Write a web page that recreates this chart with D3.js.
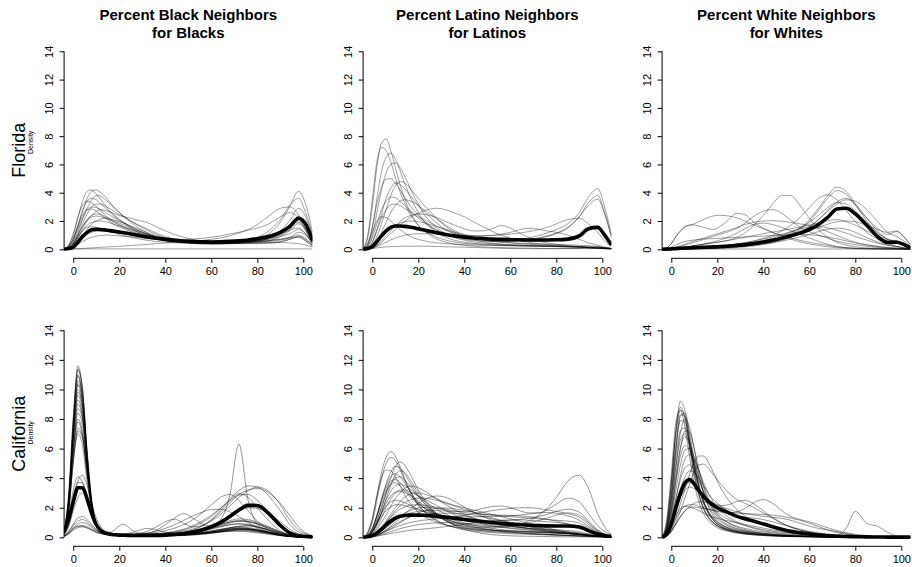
<!DOCTYPE html>
<html>
<head>
<meta charset="utf-8">
<script src="https://cdn.jsdelivr.net/npm/d3@7/dist/d3.min.js"></script>
<style>
  body { margin: 0; background: #fff; }
  svg { font-family: "Liberation Sans", Arial, Helvetica, sans-serif; }
</style>
</head>
<body>
<script>
// Percent of same-group neighbours: density curves per county (grey) and state average (black)
// x grid shared by every curve
const xGrid = [-4,-2,0,2,4,6,8,10,12,14,16,18,20, 22,25,28,32,36,40,44,48,52,56,60,64,68,72,76,80, 85,90,94,98,101,104];

const colTitles = [
  ['Percent Black Neighbors', 'for Blacks'],
  ['Percent Latino Neighbors', 'for Latinos'],
  ['Percent White Neighbors', 'for Whites']
];
const rowLabels = ['Florida', 'California'];
const xTicks = [0, 20, 40, 60, 80, 100];
const yTicks = [0, 2, 4, 6, 8, 10, 12, 14];

// Florida - Black
const flBlackMean = [0,0.05,0.15,0.5,0.9,1.2,1.38,1.42,1.4,1.36,1.32,1.27,1.22, 1.17,1.08,0.99,0.88,0.78,0.7,0.64,0.59,0.55,0.53,0.52,0.53,0.56,0.6,0.66,0.75, 0.9,1.2,1.6,2.2,1.8,0.6];
const flBlackCurves = [
  [0,0.3,1.0,2.2,3.4,4.1,4.2,3.9,3.5,3.1,2.7,2.4,2.1, 1.85,1.5,1.2,0.9,0.72,0.6,0.52,0.47,0.43,0.41,0.4,0.4,0.4,0.4,0.4,0.4, 0.42,0.5,0.7,0.9,0.6,0.2],
  [0,0.2,0.7,1.6,2.7,3.6,4.1,4.2,4.0,3.7,3.3,2.9,2.6, 2.3,1.9,1.55,1.15,0.85,0.65,0.52,0.45,0.4,0.37,0.36,0.37,0.4,0.45,0.55,0.72, 1.1,1.9,3.0,4.1,3.2,1.2],
  [0,0.15,0.5,1.2,2.1,2.9,3.5,3.8,3.75,3.5,3.2,2.9,2.6, 2.35,2.0,1.7,1.35,1.05,0.8,0.65,0.55,0.5,0.46,0.45,0.47,0.5,0.55,0.6,0.7, 0.9,1.2,1.7,2.3,1.8,0.7],
  [0,0.2,0.8,1.7,2.7,3.4,3.6,3.5,3.2,2.9,2.6,2.3,2.1, 1.9,1.6,1.35,1.1,0.85,0.7,0.62,0.57,0.53,0.51,0.5,0.5,0.52,0.57,0.68,0.85, 1.3,2.1,3.1,3.6,2.6,1.0],
  [0,0.1,0.4,1.0,1.8,2.5,3.0,3.2,3.2,3.05,2.85,2.65,2.45, 2.28,2.0,1.75,1.45,1.15,0.9,0.72,0.6,0.53,0.5,0.5,0.5,0.5,0.52,0.56,0.6, 0.75,1.0,1.4,1.9,1.5,0.6],
  [0,0.15,0.6,1.4,2.2,2.8,3.0,2.95,2.8,2.6,2.4,2.2,2.0, 1.85,1.6,1.35,1.1,0.9,0.75,0.65,0.6,0.6,0.63,0.7,0.8,0.95,1.15,1.4,1.75, 2.35,2.9,3.0,2.4,1.4,0.5],
  [0,0.1,0.3,0.8,1.4,2.0,2.4,2.7,2.8,2.75,2.65,2.5,2.4, 2.3,2.2,2.05,1.9,1.6,1.3,1.05,0.85,0.7,0.6,0.52,0.47,0.44,0.42,0.42,0.43, 0.47,0.55,0.7,0.9,0.7,0.3],
  [0,0.1,0.4,1.0,1.6,2.1,2.4,2.5,2.45,2.3,2.15,2.0,1.85, 1.72,1.5,1.3,1.05,0.85,0.7,0.58,0.5,0.45,0.42,0.4,0.41,0.43,0.46,0.52,0.6, 0.8,1.3,2.0,2.9,2.3,0.9],
  [0,0.05,0.2,0.6,1.0,1.4,1.8,2.0,2.15,2.2,2.15,2.05,1.95, 1.85,1.65,1.45,1.2,0.95,0.8,0.65,0.56,0.5,0.47,0.45,0.46,0.48,0.52,0.58,0.65, 0.8,1.1,1.5,2.0,1.6,0.6],
  [0,0.1,0.3,0.8,1.3,1.7,1.9,2.0,2.0,1.95,1.85,1.75,1.65, 1.55,1.4,1.25,1.05,0.9,0.8,0.73,0.7,0.72,0.78,0.85,0.95,1.08,1.2,1.35,1.5, 1.8,2.3,2.6,2.2,1.3,0.5],
  [0,0.05,0.15,0.35,0.55,0.72,0.85,0.93,0.98,1.0,1.0,0.98,0.95, 0.92,0.88,0.83,0.76,0.7,0.66,0.62,0.58,0.55,0.52,0.5,0.49,0.48,0.47,0.48,0.5, 0.55,0.65,0.8,1.2,1.0,0.4],
  [0,0.1,0.4,0.9,1.3,1.55,1.6,1.55,1.45,1.35,1.25,1.15,1.05, 0.97,0.85,0.75,0.64,0.55,0.5,0.46,0.44,0.42,0.41,0.4,0.4,0.41,0.43,0.46,0.5, 0.6,0.9,1.3,1.8,1.4,0.5],
  [0,0.01,0.02,0.04,0.06,0.08,0.1,0.12,0.14,0.16,0.18,0.2,0.22, 0.24,0.27,0.3,0.35,0.4,0.44,0.49,0.53,0.56,0.58,0.6,0.6,0.59,0.57,0.54,0.52, 0.5,0.48,0.45,0.4,0.3,0.15],
  [0,0.02,0.03,0.03,0.03,0.03,0.03,0.03,0.03,0.03,0.03,0.03,0.03, 0.03,0.03,0.03,0.03,0.03,0.03,0.03,0.03,0.03,0.03,0.03,0.03,0.03,0.03,0.03,0.03, 0.03,0.03,0.03,0.03,0.03,0.02],
  [0,0.3,1.1,2.3,3.1,3.4,3.3,3.0,2.7,2.4,2.1,1.9,1.7, 1.55,1.3,1.1,0.88,0.72,0.62,0.55,0.51,0.49,0.48,0.48,0.49,0.5,0.52,0.55,0.6, 0.7,0.9,1.1,1.4,1.1,0.4],
  [0,0.1,0.4,1.0,1.6,2.05,2.3,2.35,2.3,2.2,2.05,1.9,1.75, 1.6,1.4,1.2,0.98,0.8,0.66,0.56,0.49,0.44,0.41,0.4,0.4,0.42,0.45,0.5,0.58, 0.75,1.05,1.35,1.5,1.1,0.4],
  [0,0.2,0.7,1.6,2.4,2.8,2.85,2.7,2.45,2.2,1.95,1.75,1.58, 1.45,1.25,1.08,0.9,0.75,0.63,0.55,0.5,0.46,0.44,0.43,0.43,0.44,0.46,0.5,0.55, 0.62,0.72,0.85,1.0,0.75,0.3],
  [0,0.05,0.2,0.5,0.8,1.05,1.2,1.28,1.3,1.28,1.25,1.2,1.15, 1.1,1.02,0.94,0.84,0.75,0.68,0.62,0.57,0.53,0.5,0.48,0.47,0.47,0.48,0.5,0.55, 0.62,0.7,0.8,0.85,0.6,0.25]
];

// Florida - Latino
const flLatinoMean = [0,0.05,0.2,0.55,0.95,1.3,1.55,1.65,1.65,1.62,1.58,1.52,1.45, 1.38,1.28,1.17,1.04,0.94,0.86,0.8,0.76,0.72,0.7,0.68,0.67,0.66,0.66,0.66,0.67, 0.72,0.95,1.45,1.55,1.0,0.3];
const flLatinoCurves = [
  [0,0.8,3.0,5.8,7.5,7.8,7.0,5.8,4.6,3.6,2.8,2.2,1.7, 1.35,1.0,0.72,0.5,0.36,0.28,0.22,0.17,0.14,0.12,0.1,0.09,0.08,0.07,0.06,0.05, 0.05,0.05,0.05,0.05,0.04,0.03],
  [0,1.0,3.5,6.2,7.2,7.0,6.2,5.1,4.1,3.3,2.6,2.1,1.7, 1.4,1.1,0.85,0.65,0.5,0.42,0.37,0.33,0.3,0.28,0.26,0.24,0.23,0.22,0.22,0.22, 0.22,0.2,0.18,0.15,0.1,0.05],
  [0,0.3,1.5,3.6,5.5,6.5,6.8,6.4,5.6,4.7,3.9,3.2,2.6, 2.1,1.6,1.2,0.85,0.62,0.5,0.42,0.37,0.33,0.3,0.28,0.26,0.24,0.22,0.2,0.18, 0.16,0.14,0.12,0.1,0.08,0.05],
  [0,0.2,1.0,2.6,4.2,5.4,6.0,6.1,5.8,5.2,4.5,3.8,3.2, 2.6,2.0,1.5,1.1,0.8,0.65,0.52,0.45,0.4,0.36,0.33,0.31,0.29,0.27,0.25,0.23, 0.22,0.2,0.18,0.15,0.1,0.06],
  [0,0.4,1.6,3.2,4.4,4.95,5.0,4.7,4.2,3.7,3.2,2.8,2.4, 2.05,1.7,1.35,1.05,0.85,0.7,0.62,0.57,0.55,0.56,0.6,0.68,0.8,0.95,1.15,1.4, 1.8,2.6,3.7,4.3,3.0,1.0],
  [0,0.1,0.5,1.4,2.5,3.6,4.3,4.7,4.6,4.3,3.9,3.5,3.1, 2.75,2.3,1.85,1.4,1.1,0.9,0.75,0.65,0.6,0.57,0.55,0.58,0.64,0.75,0.9,1.1, 1.5,2.3,3.3,3.8,2.6,0.9],
  [0,0.05,0.3,0.9,1.8,2.8,3.8,4.5,4.8,4.7,4.4,4.0,3.6, 3.2,2.7,2.2,1.6,1.2,0.9,0.68,0.53,0.43,0.36,0.31,0.28,0.26,0.24,0.22,0.2, 0.18,0.15,0.12,0.1,0.07,0.04],
  [0,0.2,0.8,1.8,2.8,3.4,3.7,3.65,3.4,3.1,2.8,2.5,2.2, 1.95,1.6,1.35,1.1,0.92,0.8,0.72,0.67,0.64,0.62,0.62,0.64,0.7,0.8,0.95,1.15, 1.55,2.3,3.1,3.55,2.5,0.8],
  [0,0.05,0.2,0.6,1.2,1.9,2.6,3.1,3.4,3.5,3.45,3.3,3.1, 2.85,2.5,2.15,1.7,1.3,1.0,0.8,0.66,0.56,0.5,0.45,0.4,0.36,0.32,0.28,0.25, 0.2,0.15,0.1,0.08,0.05,0.03],
  [0,0.1,0.5,1.3,2.2,2.8,3.15,3.2,3.1,2.9,2.7,2.5,2.3, 2.15,1.9,1.65,1.35,1.1,0.95,0.8,0.68,0.58,0.52,0.47,0.43,0.41,0.39,0.37,0.35, 0.32,0.28,0.25,0.2,0.12,0.06],
  [0,0.02,0.08,0.25,0.5,0.8,1.1,1.4,1.7,1.95,2.2,2.4,2.55, 2.7,2.85,2.9,2.8,2.55,2.3,1.95,1.6,1.28,1.0,0.8,0.63,0.5,0.4,0.33,0.28, 0.22,0.17,0.12,0.08,0.05,0.03],
  [0,0.02,0.1,0.3,0.6,0.95,1.3,1.65,1.95,2.2,2.35,2.45,2.5, 2.48,2.4,2.25,1.95,1.7,1.45,1.3,1.3,1.45,1.68,1.5,1.15,0.85,0.6,0.45,0.35, 0.25,0.18,0.12,0.08,0.05,0.03],
  [0,0.05,0.2,0.5,0.85,1.2,1.5,1.7,1.85,1.95,2.0,2.0,1.95, 1.9,1.75,1.6,1.4,1.2,1.05,0.97,0.95,0.98,1.07,1.2,1.38,1.5,1.42,1.3,1.2, 1.0,0.7,0.45,0.3,0.15,0.06],
  [0,0.02,0.08,0.2,0.35,0.5,0.65,0.8,0.9,1.0,1.05,1.08,1.1, 1.1,1.1,1.08,1.04,1.0,0.97,0.95,0.95,0.98,1.02,1.08,1.15,1.25,1.38,1.55,1.8, 2.1,2.2,1.8,1.2,0.6,0.2],
  [0,0.02,0.05,0.1,0.14,0.17,0.19,0.2,0.21,0.22,0.22,0.22,0.22, 0.22,0.21,0.2,0.18,0.16,0.15,0.13,0.11,0.09,0.07,0.06,0.05,0.04,0.04,0.04,0.04, 0.05,0.06,0.1,0.15,0.12,0.06],
  [0,0.4,1.2,2.0,2.3,2.25,2.0,1.7,1.4,1.15,0.95,0.8,0.7, 0.62,0.52,0.45,0.4,0.36,0.33,0.3,0.28,0.27,0.26,0.25,0.24,0.23,0.22,0.21,0.2, 0.18,0.15,0.12,0.08,0.05,0.03]
];

// Florida - White
const flWhiteMean = [0,0.01,0.03,0.05,0.07,0.09,0.1,0.12,0.13,0.14,0.16,0.17,0.18, 0.2,0.23,0.27,0.33,0.41,0.52,0.64,0.79,0.96,1.15,1.4,1.75,2.25,2.85,2.9,2.5, 1.7,0.85,0.48,0.5,0.35,0.1];
const flWhiteCurves = [
  [0,0.1,0.4,0.9,1.3,1.6,1.7,1.8,1.95,2.1,2.25,2.35,2.4, 2.4,2.35,2.25,2.0,1.7,1.45,1.2,0.95,0.72,0.52,0.38,0.27,0.18,0.12,0.08,0.06, 0.04,0.03,0.02,0.02,0.01,0.01],
  [0,0.1,0.4,0.9,1.3,1.6,1.72,1.72,1.65,1.55,1.45,1.4,1.5, 1.7,2.1,2.55,2.45,1.9,1.5,1.2,0.98,0.8,0.63,0.5,0.38,0.28,0.18,0.12,0.08, 0.05,0.03,0.02,0.02,0.01,0.01],
  [0,0.01,0.03,0.06,0.1,0.15,0.2,0.25,0.3,0.35,0.4,0.45,0.5, 0.55,0.65,0.8,1.15,1.7,2.4,3.2,3.8,3.8,3.1,2.2,1.4,0.85,0.5,0.3,0.18, 0.1,0.06,0.04,0.03,0.02,0.01],
  [0,0.02,0.06,0.12,0.2,0.3,0.4,0.5,0.6,0.7,0.8,0.9,1.0, 1.1,1.25,1.45,1.85,2.35,2.7,2.8,2.55,2.05,1.55,1.25,1.0,0.78,0.58,0.43,0.32, 0.22,0.13,0.08,0.05,0.03,0.01],
  [0,0.02,0.06,0.15,0.25,0.35,0.5,0.6,0.7,0.8,0.9,1.0,1.1, 1.2,1.35,1.5,1.75,1.92,2.0,2.02,1.98,1.9,1.8,1.68,1.5,1.25,0.98,0.72,0.5, 0.32,0.2,0.12,0.08,0.05,0.02],
  [0,0,0.01,0.02,0.03,0.04,0.05,0.06,0.07,0.08,0.09,0.1,0.12, 0.14,0.17,0.21,0.28,0.37,0.5,0.66,0.88,1.15,1.5,2.1,2.9,3.8,4.4,4.1,3.2, 2.0,1.1,0.7,0.6,0.4,0.15],
  [0,0,0.01,0.02,0.03,0.04,0.05,0.06,0.07,0.08,0.09,0.1,0.11, 0.13,0.15,0.19,0.25,0.33,0.44,0.6,0.8,1.05,1.4,1.95,2.75,3.6,4.15,3.9,3.1, 2.2,1.45,1.05,1.25,0.9,0.3],
  [0,0.01,0.02,0.04,0.06,0.08,0.1,0.12,0.14,0.16,0.18,0.2,0.22, 0.25,0.3,0.36,0.46,0.6,0.78,1.0,1.3,1.7,2.25,2.95,3.6,3.85,3.5,2.75,1.95, 1.2,0.7,0.4,0.2,0.1,0.04],
  [0,0,0,0.01,0.02,0.03,0.04,0.05,0.06,0.07,0.08,0.09,0.1, 0.12,0.14,0.18,0.23,0.32,0.42,0.55,0.72,0.95,1.25,1.6,2.1,2.7,3.2,3.5,3.4, 2.8,1.9,1.2,0.9,0.6,0.2],
  [0,0.01,0.02,0.03,0.05,0.07,0.09,0.1,0.12,0.14,0.16,0.18,0.2, 0.23,0.27,0.33,0.4,0.5,0.62,0.78,0.98,1.22,1.52,1.9,2.4,2.95,3.3,3.2,2.7, 1.9,1.15,0.7,0.55,0.4,0.15],
  [0,0.01,0.03,0.06,0.1,0.15,0.2,0.25,0.3,0.35,0.4,0.45,0.5, 0.55,0.63,0.72,0.85,0.98,1.1,1.22,1.33,1.45,1.58,1.72,1.88,2.02,2.1,1.95,1.7, 1.3,0.9,0.6,0.45,0.3,0.1],
  [0,0.01,0.02,0.04,0.06,0.08,0.1,0.12,0.14,0.16,0.18,0.2,0.22, 0.25,0.3,0.36,0.46,0.58,0.72,0.88,1.06,1.25,1.45,1.58,1.6,1.52,1.35,1.15,0.9, 0.65,0.42,0.28,0.2,0.12,0.05],
  [0,0.05,0.15,0.3,0.45,0.55,0.62,0.66,0.7,0.72,0.74,0.76,0.78, 0.8,0.82,0.84,0.87,0.9,0.93,0.97,1.01,1.04,1.05,1.03,0.97,0.87,0.75,0.6,0.45, 0.3,0.18,0.12,0.08,0.05,0.02],
  [0,0,0,0.01,0.02,0.03,0.04,0.05,0.06,0.07,0.08,0.09,0.1, 0.11,0.13,0.17,0.22,0.3,0.4,0.52,0.68,0.88,1.1,1.32,1.55,1.78,1.95,2.0,1.95, 1.7,1.38,1.2,1.3,0.9,0.3],
  [0,0.01,0.02,0.02,0.02,0.02,0.02,0.02,0.02,0.02,0.02,0.02,0.02, 0.02,0.02,0.02,0.02,0.02,0.02,0.02,0.02,0.02,0.02,0.02,0.02,0.02,0.02,0.02,0.02, 0.02,0.02,0.02,0.02,0.02,0.01],
  [0,0,0,0,0.01,0.01,0.02,0.02,0.03,0.03,0.04,0.05,0.06, 0.07,0.09,0.12,0.17,0.24,0.33,0.46,0.63,0.86,1.15,1.55,2.1,2.75,3.35,3.6,3.2, 2.2,1.25,0.7,0.5,0.35,0.12],
  [0,0,0.01,0.02,0.03,0.04,0.05,0.06,0.07,0.08,0.09,0.1,0.11, 0.13,0.15,0.18,0.23,0.3,0.38,0.47,0.58,0.72,0.88,1.05,1.25,1.42,1.5,1.42,1.2, 0.82,0.5,0.3,0.2,0.1,0.04],
  [0,0.01,0.03,0.06,0.1,0.15,0.2,0.26,0.32,0.38,0.45,0.52,0.6, 0.7,0.88,1.1,1.45,1.75,1.85,1.75,1.55,1.3,1.05,0.8,0.55,0.35,0.2,0.1,0.05, 0.03,0.02,0.01,0.01,0.01,0]
];

// California - Black
const caBlackMean = [0.35,1.2,2.4,3.35,3.35,2.6,1.6,0.85,0.45,0.28,0.2,0.17,0.15, 0.14,0.13,0.12,0.12,0.13,0.15,0.19,0.26,0.36,0.5,0.7,1.0,1.4,1.85,2.15,2.15, 1.6,0.8,0.3,0.1,0.05,0.03];
const caBlackCurves = [
  [0.4,2.8,8.0,11.6,10.0,5.5,2.2,0.8,0.4,0.3,0.25,0.2,0.18, 0.15,0.12,0.1,0.1,0.1,0.1,0.1,0.12,0.15,0.2,0.27,0.35,0.42,0.45,0.42,0.35, 0.25,0.13,0.06,0.03,0.02,0.01],
  [0.3,2.5,7.6,11.3,10.1,5.8,2.4,0.9,0.45,0.3,0.22,0.18,0.15, 0.13,0.12,0.1,0.1,0.11,0.13,0.16,0.2,0.25,0.3,0.36,0.45,0.55,0.6,0.57,0.48, 0.33,0.18,0.08,0.03,0.02,0.01],
  [0.5,3.0,8.2,11.0,9.2,5.0,2.0,0.75,0.35,0.25,0.2,0.18,0.16, 0.15,0.14,0.12,0.12,0.13,0.15,0.17,0.2,0.24,0.28,0.33,0.38,0.4,0.4,0.37,0.3, 0.2,0.11,0.05,0.02,0.01,0.01],
  [0.3,2.2,7.0,10.6,9.7,5.9,2.6,1.0,0.5,0.32,0.25,0.2,0.17, 0.14,0.12,0.1,0.08,0.08,0.09,0.11,0.14,0.19,0.26,0.35,0.48,0.62,0.75,0.8,0.72, 0.5,0.28,0.12,0.04,0.02,0.01],
  [0.4,2.6,7.3,10.3,9.0,5.2,2.2,0.85,0.4,0.28,0.22,0.2,0.18, 0.16,0.14,0.12,0.1,0.1,0.11,0.13,0.16,0.2,0.26,0.34,0.44,0.55,0.6,0.55,0.42, 0.27,0.14,0.06,0.03,0.02,0.01],
  [0.35,2.3,6.8,9.8,8.9,5.4,2.4,1.0,0.5,0.32,0.24,0.2,0.18, 0.15,0.13,0.12,0.12,0.14,0.17,0.21,0.27,0.35,0.46,0.6,0.74,0.86,0.9,0.84,0.68, 0.45,0.24,0.1,0.04,0.02,0.01],
  [0.45,2.5,6.8,9.3,8.2,4.8,2.1,0.85,0.42,0.28,0.22,0.18,0.16, 0.14,0.12,0.11,0.1,0.1,0.1,0.12,0.14,0.17,0.22,0.28,0.36,0.44,0.5,0.47,0.4, 0.28,0.15,0.06,0.03,0.02,0.01],
  [0.3,2.0,6.0,8.7,8.0,5.0,2.3,0.95,0.48,0.3,0.22,0.18,0.16, 0.14,0.12,0.11,0.1,0.12,0.15,0.19,0.25,0.33,0.45,0.6,0.78,0.96,1.08,1.05,0.9, 0.62,0.34,0.13,0.05,0.02,0.01],
  [0.4,2.1,5.8,8.0,7.1,4.4,2.0,0.85,0.42,0.28,0.22,0.2,0.18, 0.16,0.14,0.13,0.12,0.12,0.13,0.16,0.2,0.26,0.34,0.44,0.55,0.65,0.7,0.66,0.55, 0.38,0.2,0.08,0.03,0.02,0.01],
  [0.3,1.8,5.2,7.4,6.8,4.4,2.1,0.9,0.45,0.3,0.22,0.18,0.15, 0.13,0.11,0.1,0.1,0.12,0.16,0.21,0.28,0.38,0.5,0.66,0.85,1.03,1.15,1.1,0.95, 0.68,0.36,0.15,0.05,0.02,0.01],
  [0.5,2.0,5.2,7.0,6.2,3.8,1.8,0.8,0.4,0.28,0.22,0.2,0.18, 0.16,0.14,0.13,0.12,0.12,0.12,0.13,0.15,0.19,0.24,0.3,0.38,0.46,0.53,0.55,0.48, 0.34,0.18,0.07,0.03,0.02,0.01],
  [0.3,2.4,7.5,10.9,9.6,5.6,2.3,0.9,0.45,0.3,0.24,0.2,0.18, 0.16,0.13,0.11,0.1,0.1,0.11,0.13,0.16,0.2,0.25,0.31,0.39,0.47,0.53,0.53,0.46, 0.33,0.17,0.07,0.03,0.02,0.01],
  [0.35,2.2,6.4,9.0,8.1,4.9,2.2,0.9,0.45,0.3,0.24,0.22,0.2, 0.18,0.15,0.13,0.12,0.12,0.13,0.15,0.19,0.24,0.31,0.4,0.52,0.64,0.74,0.76,0.68, 0.5,0.27,0.11,0.04,0.02,0.01],
  [0.4,2.6,7.2,10.0,8.8,5.1,2.1,0.8,0.4,0.27,0.2,0.17,0.15, 0.13,0.12,0.1,0.1,0.1,0.12,0.14,0.17,0.22,0.28,0.36,0.46,0.56,0.63,0.6,0.5, 0.34,0.18,0.07,0.03,0.02,0.01],
  [0.35,2.6,7.8,11.4,9.9,5.6,2.2,0.85,0.42,0.28,0.22,0.19,0.17, 0.15,0.13,0.11,0.1,0.11,0.13,0.16,0.2,0.26,0.33,0.42,0.52,0.6,0.64,0.6,0.5, 0.34,0.18,0.07,0.03,0.02,0.01],
  [0.3,2.3,7.1,10.4,9.3,5.5,2.3,0.9,0.45,0.3,0.23,0.19,0.17, 0.15,0.13,0.12,0.11,0.12,0.14,0.18,0.24,0.32,0.42,0.55,0.7,0.84,0.92,0.88,0.74, 0.5,0.27,0.11,0.04,0.02,0.01],
  [0.4,2.4,6.8,9.6,8.5,5.0,2.1,0.85,0.42,0.28,0.22,0.19,0.17, 0.15,0.13,0.12,0.11,0.11,0.12,0.14,0.17,0.21,0.27,0.34,0.42,0.5,0.55,0.53,0.45, 0.31,0.16,0.07,0.03,0.02,0.01],
  [0.3,1.9,5.8,8.4,7.6,4.7,2.2,0.95,0.48,0.32,0.25,0.21,0.19, 0.17,0.15,0.14,0.14,0.16,0.19,0.24,0.31,0.41,0.55,0.72,0.92,1.12,1.25,1.2,1.02, 0.7,0.38,0.15,0.05,0.02,0.01],
  [0.45,2.2,5.9,7.8,6.9,4.2,1.9,0.8,0.4,0.27,0.21,0.18,0.16, 0.14,0.12,0.11,0.1,0.1,0.11,0.13,0.16,0.2,0.25,0.32,0.4,0.48,0.52,0.5,0.42, 0.29,0.15,0.06,0.03,0.02,0.01],
  [0.25,1.7,5.1,7.2,6.7,4.3,2.0,0.85,0.43,0.29,0.22,0.19,0.17, 0.16,0.14,0.13,0.13,0.14,0.17,0.22,0.29,0.39,0.52,0.68,0.86,1.02,1.1,1.05,0.88, 0.6,0.32,0.12,0.04,0.02,0.01],
  [0.2,0.9,2.4,3.8,4.2,3.5,2.3,1.3,0.7,0.4,0.3,0.25,0.22, 0.21,0.2,0.2,0.21,0.23,0.27,0.33,0.42,0.56,0.78,1.1,1.55,2.1,2.7,3.15,3.4, 3.1,2.2,1.2,0.5,0.25,0.1],
  [0.3,1.4,3.2,4.1,3.7,2.6,1.5,0.8,0.45,0.3,0.25,0.22,0.2, 0.2,0.2,0.2,0.21,0.24,0.29,0.37,0.5,0.7,1.0,1.4,1.95,2.6,3.15,3.48,3.4, 2.8,1.8,0.9,0.35,0.18,0.07],
  [0.3,1.2,2.8,3.7,3.7,2.8,1.7,0.9,0.5,0.35,0.35,0.5,0.78, 0.88,0.55,0.3,0.22,0.2,0.21,0.25,0.32,0.42,0.58,0.8,1.1,1.45,1.8,2.0,1.95, 1.6,1.05,0.55,0.22,0.1,0.04],
  [0.15,0.7,1.8,2.7,3.0,2.6,1.8,1.0,0.55,0.35,0.25,0.2,0.18, 0.16,0.14,0.14,0.15,0.17,0.2,0.25,0.32,0.45,0.62,0.85,1.2,2.8,6.3,2.5,0.9, 0.35,0.15,0.06,0.02,0.01,0.01],
  [0.1,0.4,0.9,1.3,1.4,1.2,0.85,0.55,0.35,0.25,0.2,0.18,0.17, 0.17,0.18,0.2,0.25,0.33,0.45,0.62,0.85,1.2,1.65,2.2,2.7,2.9,2.5,1.8,1.1, 0.5,0.2,0.08,0.03,0.02,0.01],
  [0.1,0.35,0.8,1.1,1.2,1.05,0.75,0.48,0.32,0.24,0.2,0.18,0.17, 0.18,0.2,0.25,0.4,0.7,1.05,1.22,0.95,0.7,0.8,1.2,1.8,2.5,2.95,2.7,2.0, 1.1,0.45,0.15,0.05,0.02,0.01],
  [0.08,0.3,0.65,0.9,1.0,0.9,0.68,0.45,0.3,0.22,0.19,0.17,0.16, 0.16,0.16,0.18,0.25,0.45,0.85,1.3,1.6,1.3,0.9,0.75,0.9,1.3,1.9,2.3,2.2, 1.6,0.9,0.4,0.15,0.06,0.02],
  [0.07,0.25,0.55,0.75,0.8,0.72,0.55,0.38,0.27,0.2,0.18,0.17,0.18, 0.22,0.3,0.45,0.6,0.5,0.35,0.3,0.35,0.5,0.75,1.15,1.7,2.3,2.85,2.9,2.5, 1.7,0.9,0.35,0.12,0.05,0.02],
  [0.06,0.22,0.48,0.65,0.7,0.62,0.48,0.33,0.24,0.19,0.17,0.16,0.16, 0.16,0.17,0.18,0.2,0.24,0.3,0.4,0.55,0.78,1.1,1.5,1.95,2.45,2.9,3.2,3.3, 3.0,2.3,1.5,0.7,0.3,0.1],
  [0.1,0.3,0.6,0.75,0.75,0.65,0.5,0.35,0.25,0.2,0.18,0.17,0.17, 0.18,0.2,0.24,0.3,0.42,0.6,0.85,1.15,1.45,1.7,1.88,1.9,1.72,1.4,1.0,0.62, 0.3,0.12,0.05,0.02,0.01,0.01]
];

// California - Latino
const caLatinoMean = [0,0.03,0.12,0.3,0.55,0.85,1.1,1.3,1.42,1.48,1.5,1.5,1.5, 1.49,1.46,1.42,1.36,1.28,1.2,1.13,1.07,1.0,0.94,0.9,0.86,0.82,0.79,0.77,0.76, 0.76,0.7,0.45,0.22,0.12,0.05];
const caLatinoCurves = [
  [0,0.3,1.2,2.8,4.4,5.4,5.8,5.5,4.8,4.0,3.3,2.7,2.2, 1.85,1.45,1.15,0.85,0.65,0.5,0.42,0.36,0.32,0.28,0.25,0.22,0.2,0.18,0.16,0.14, 0.12,0.1,0.08,0.06,0.04,0.02],
  [0,0.25,1.0,2.5,4.0,5.0,5.4,5.2,4.6,3.9,3.2,2.6,2.15, 1.8,1.4,1.1,0.85,0.68,0.57,0.5,0.45,0.42,0.4,0.38,0.36,0.34,0.32,0.3,0.28, 0.25,0.2,0.15,0.1,0.06,0.03],
  [0,0.1,0.4,1.1,2.0,3.0,4.0,4.8,5.1,4.9,4.4,3.8,3.2, 2.7,2.1,1.6,1.15,0.85,0.65,0.52,0.44,0.38,0.34,0.3,0.27,0.24,0.21,0.18,0.15, 0.12,0.09,0.06,0.04,0.02,0.01],
  [0,0.12,0.5,1.4,2.5,3.6,4.4,4.8,4.7,4.3,3.8,3.3,2.8, 2.4,1.9,1.5,1.1,0.85,0.7,0.6,0.54,0.5,0.47,0.44,0.41,0.38,0.35,0.32,0.29, 0.25,0.2,0.14,0.08,0.05,0.02],
  [0,0.05,0.3,0.9,1.7,2.6,3.5,4.2,4.5,4.4,4.0,3.5,3.0, 2.55,2.0,1.55,1.15,0.9,0.75,0.68,0.65,0.65,0.68,0.75,0.88,1.1,1.45,1.95,2.7, 3.8,4.2,3.3,1.6,0.7,0.2],
  [0,0.15,0.6,1.5,2.6,3.5,4.1,4.3,4.1,3.7,3.2,2.75,2.35, 2.05,1.7,1.45,1.2,1.0,0.85,0.72,0.6,0.5,0.42,0.36,0.31,0.27,0.23,0.2,0.17, 0.14,0.1,0.07,0.04,0.02,0.01],
  [0,0.15,0.6,1.4,2.3,3.1,3.6,3.7,3.5,3.15,2.8,2.5,2.25, 2.05,1.8,1.6,1.35,1.15,0.97,0.82,0.7,0.6,0.52,0.46,0.42,0.4,0.38,0.36,0.34, 0.3,0.24,0.17,0.1,0.05,0.02],
  [0,0.05,0.2,0.55,1.0,1.5,2.1,2.6,3.0,3.3,3.45,3.45,3.35, 3.2,2.9,2.6,2.2,1.85,1.55,1.3,1.1,0.95,0.83,0.74,0.66,0.6,0.55,0.5,0.45, 0.38,0.3,0.2,0.11,0.06,0.02],
  [0,0.03,0.12,0.35,0.7,1.1,1.55,2.0,2.4,2.7,2.9,3.0,3.0, 2.95,2.8,2.6,2.35,2.15,2.0,1.85,1.7,1.55,1.4,1.25,1.1,0.95,0.8,0.65,0.5, 0.35,0.22,0.13,0.07,0.04,0.02],
  [0,0.01,0.05,0.15,0.3,0.5,0.75,1.0,1.3,1.6,1.85,2.1,2.3, 2.5,2.7,2.8,2.7,2.4,2.05,1.7,1.4,1.15,0.95,0.8,0.68,0.58,0.5,0.42,0.35, 0.27,0.2,0.13,0.08,0.04,0.02],
  [0,0.02,0.08,0.2,0.4,0.65,0.9,1.15,1.35,1.5,1.62,1.7,1.75, 1.78,1.8,1.8,1.78,1.75,1.75,1.8,1.95,2.08,2.12,2.0,1.8,1.65,1.65,1.85,2.25, 2.65,2.4,1.6,0.8,0.4,0.15],
  [0,0.02,0.06,0.15,0.28,0.42,0.55,0.68,0.8,0.9,0.98,1.05,1.1, 1.15,1.2,1.25,1.32,1.4,1.5,1.6,1.7,1.8,1.88,1.95,2.0,2.0,1.95,1.85,1.75, 1.6,1.35,0.9,0.4,0.18,0.06],
  [0,0.01,0.04,0.1,0.18,0.28,0.38,0.48,0.58,0.66,0.73,0.8,0.85, 0.9,0.95,0.98,1.0,0.98,0.94,0.88,0.82,0.76,0.7,0.64,0.58,0.52,0.46,0.4,0.34, 0.26,0.18,0.1,0.05,0.02,0.01],
  [0,0.1,0.4,0.9,1.4,1.8,2.05,2.2,2.2,2.15,2.05,1.95,1.85, 1.75,1.6,1.45,1.3,1.2,1.15,1.12,1.1,1.1,1.12,1.15,1.2,1.28,1.4,1.55,1.75, 1.9,1.7,1.1,0.5,0.22,0.08],
  [0,0.08,0.35,0.9,1.6,2.3,2.8,3.05,3.1,3.05,2.9,2.7,2.45, 2.2,1.85,1.5,1.1,0.78,0.55,0.38,0.26,0.18,0.13,0.1,0.08,0.07,0.06,0.05,0.04, 0.03,0.03,0.02,0.02,0.01,0.01],
  [0,0.1,0.4,1.0,1.6,2.1,2.4,2.5,2.45,2.35,2.2,2.05,1.9, 1.8,1.65,1.55,1.45,1.4,1.38,1.38,1.4,1.42,1.42,1.4,1.35,1.3,1.25,1.2,1.15, 1.1,0.95,0.65,0.3,0.13,0.05],
  [0,0.01,0.03,0.08,0.14,0.2,0.26,0.32,0.37,0.42,0.46,0.5,0.53, 0.56,0.6,0.65,0.72,0.8,0.88,0.96,1.04,1.1,1.15,1.18,1.18,1.15,1.1,1.05,1.0, 0.9,0.75,0.5,0.25,0.1,0.04],
  [0,0.35,1.3,2.8,4.0,4.55,4.5,4.1,3.5,2.9,2.4,2.0,1.7, 1.45,1.2,1.0,0.82,0.7,0.62,0.56,0.52,0.48,0.45,0.42,0.39,0.36,0.33,0.3,0.27, 0.23,0.18,0.12,0.07,0.04,0.02],
  [0,0.05,0.25,0.7,1.3,2.0,2.6,3.0,3.2,3.2,3.1,2.95,2.8, 2.65,2.4,2.15,1.8,1.5,1.25,1.05,0.9,0.78,0.68,0.6,0.53,0.47,0.42,0.37,0.32, 0.26,0.2,0.13,0.07,0.04,0.02],
  [0,0.02,0.1,0.3,0.6,1.0,1.4,1.8,2.1,2.35,2.5,2.6,2.65, 2.65,2.6,2.5,2.3,2.1,1.9,1.7,1.5,1.32,1.15,1.0,0.88,0.76,0.65,0.55,0.45, 0.34,0.24,0.15,0.08,0.04,0.02],
  [0,0.08,0.35,0.95,1.7,2.5,3.1,3.5,3.6,3.5,3.3,3.05,2.8, 2.55,2.2,1.9,1.55,1.3,1.12,1.0,0.92,0.86,0.8,0.74,0.68,0.6,0.52,0.44,0.36, 0.27,0.19,0.12,0.07,0.04,0.02],
  [0,0.03,0.12,0.35,0.65,1.0,1.35,1.65,1.9,2.05,2.15,2.2,2.2, 2.18,2.12,2.02,1.9,1.78,1.68,1.6,1.55,1.52,1.5,1.48,1.45,1.4,1.32,1.22,1.1, 0.9,0.65,0.4,0.2,0.09,0.03],
  [0,0.01,0.04,0.12,0.24,0.4,0.58,0.78,0.98,1.18,1.36,1.52,1.65, 1.76,1.88,1.95,1.98,1.92,1.82,1.7,1.58,1.5,1.45,1.45,1.5,1.58,1.65,1.68,1.62, 1.45,1.15,0.75,0.35,0.15,0.05],
  [0,0.1,0.45,1.15,2.0,2.9,3.6,4.0,4.1,3.9,3.55,3.15,2.75, 2.4,1.95,1.6,1.25,1.0,0.82,0.68,0.57,0.48,0.41,0.35,0.3,0.26,0.22,0.19,0.16, 0.12,0.09,0.06,0.04,0.02,0.01],
  [0,0.02,0.08,0.22,0.42,0.66,0.92,1.18,1.42,1.62,1.78,1.9,1.98, 2.02,2.02,1.96,1.82,1.64,1.46,1.28,1.12,0.98,0.86,0.76,0.68,0.62,0.58,0.55,0.52, 0.46,0.36,0.23,0.11,0.05,0.02],
  [0,0.15,0.6,1.5,2.5,3.3,3.8,3.9,3.7,3.35,2.95,2.6,2.3, 2.05,1.75,1.5,1.25,1.05,0.9,0.8,0.74,0.72,0.73,0.78,0.86,0.98,1.12,1.3,1.5, 1.65,1.5,1.0,0.45,0.2,0.07],
  [0,0.01,0.05,0.15,0.3,0.48,0.68,0.88,1.06,1.22,1.35,1.45,1.52, 1.56,1.6,1.62,1.63,1.62,1.58,1.5,1.38,1.25,1.12,0.98,0.85,0.72,0.6,0.5,0.4, 0.3,0.2,0.12,0.06,0.03,0.01]
];

// California - White
const caWhiteMean = [0,0.2,0.9,2.0,3.0,3.7,3.9,3.6,3.15,2.75,2.45,2.2,2.0, 1.85,1.65,1.45,1.25,1.08,0.9,0.72,0.55,0.4,0.3,0.22,0.15,0.1,0.07,0.05,0.04, 0.03,0.02,0.015,0.01,0.01,0.01];
const caWhiteCurves = [
  [0,0.8,3.5,7.2,9.2,8.5,6.5,4.5,3.0,2.0,1.4,1.0,0.75, 0.58,0.42,0.32,0.22,0.16,0.12,0.09,0.07,0.05,0.04,0.03,0.02,0.02,0.01,0.01,0.01, 0.01,0.01,0,0,0,0],
  [0,1.0,3.8,7.2,8.8,8.0,6.0,4.1,2.8,1.9,1.35,1.0,0.78, 0.62,0.47,0.36,0.26,0.2,0.15,0.11,0.08,0.06,0.05,0.04,0.03,0.02,0.02,0.01,0.01, 0.01,0.01,0,0,0,0],
  [0,0.5,2.6,5.9,8.2,8.4,7.0,5.2,3.6,2.5,1.75,1.25,0.9, 0.7,0.5,0.38,0.28,0.22,0.17,0.13,0.1,0.08,0.06,0.05,0.04,0.03,0.02,0.02,0.01, 0.01,0.01,0,0,0,0],
  [0,0.4,2.0,4.8,7.1,8.0,7.4,5.9,4.3,3.0,2.1,1.5,1.1, 0.85,0.6,0.45,0.32,0.24,0.18,0.14,0.11,0.08,0.06,0.05,0.04,0.03,0.02,0.02,0.01, 0.01,0.01,0,0,0,0],
  [0,0.6,2.5,5.4,7.2,7.4,6.3,4.8,3.5,2.5,1.8,1.35,1.05, 0.85,0.65,0.5,0.38,0.3,0.24,0.18,0.14,0.1,0.08,0.06,0.05,0.04,0.03,0.02,0.02, 0.01,0.01,0.01,0,0,0],
  [0,0.4,1.8,4.2,6.1,6.8,6.4,5.3,4.1,3.0,2.2,1.65,1.25, 1.0,0.75,0.58,0.43,0.33,0.25,0.19,0.14,0.1,0.08,0.06,0.05,0.04,0.03,0.02,0.02, 0.01,0.01,0.01,0,0,0],
  [0,0.3,1.3,3.2,4.9,5.9,6.0,5.4,4.5,3.5,2.7,2.05,1.6, 1.25,0.95,0.72,0.52,0.38,0.28,0.21,0.16,0.12,0.09,0.07,0.05,0.04,0.03,0.02,0.02, 0.01,0.01,0.01,0,0,0],
  [0,0.1,0.5,1.3,2.3,3.3,4.3,5.1,5.5,5.5,5.1,4.5,3.8, 3.2,2.5,1.95,1.45,1.1,0.85,0.65,0.5,0.38,0.29,0.22,0.16,0.12,0.09,0.07,0.05, 0.03,0.02,0.01,0.01,0,0],
  [0,0.08,0.4,1.0,1.8,2.7,3.6,4.4,4.9,4.95,4.7,4.3,3.9, 3.5,3.0,2.6,2.3,2.0,1.65,1.3,0.95,0.68,0.48,0.34,0.24,0.17,0.12,0.08,0.05, 0.03,0.02,0.01,0.01,0,0],
  [0,0.2,0.9,2.1,3.3,4.1,4.5,4.4,4.0,3.5,3.0,2.6,2.3, 2.05,1.75,1.5,1.25,1.05,0.88,0.72,0.58,0.45,0.35,0.27,0.2,0.15,0.11,0.08,0.06, 0.04,0.03,0.02,0.01,0.01,0],
  [0,0.2,0.8,1.8,2.7,3.2,3.4,3.3,3.05,2.8,2.55,2.35,2.2, 2.15,2.2,2.4,2.5,2.25,1.8,1.35,0.98,0.7,0.5,0.36,0.26,0.19,0.13,0.09,0.06, 0.04,0.03,0.02,0.01,0.01,0],
  [0,0.15,0.6,1.3,1.8,2.1,2.2,2.2,2.1,2.0,1.9,1.82,1.75, 1.7,1.65,1.7,1.95,2.35,2.55,2.3,1.8,1.4,1.2,1.05,0.85,0.65,0.45,0.3,0.2, 0.12,0.07,0.04,0.02,0.01,0],
  [0,0.2,0.8,1.5,1.95,2.1,2.05,1.95,1.8,1.65,1.5,1.38,1.28, 1.2,1.1,1.0,0.88,0.75,0.62,0.5,0.4,0.32,0.25,0.18,0.13,0.1,0.12,0.6,1.75, 0.95,0.72,0.35,0.08,0.02,0.01],
  [0,0.1,0.4,0.9,1.4,1.8,2.0,2.05,2.0,1.95,1.9,1.85,1.8, 1.75,1.7,1.65,1.6,1.58,1.55,1.5,1.42,1.3,1.15,0.95,0.72,0.5,0.32,0.2,0.12, 0.07,0.04,0.02,0.01,0.01,0],
  [0,1.2,4.3,7.8,8.6,7.4,5.4,3.6,2.4,1.6,1.15,0.85,0.65, 0.52,0.4,0.3,0.22,0.16,0.12,0.09,0.07,0.05,0.04,0.03,0.02,0.02,0.01,0.01,0.01, 0.01,0,0,0,0,0],
  [0,0.5,2.2,4.8,6.6,7.0,6.1,4.7,3.4,2.4,1.75,1.3,1.0, 0.8,0.6,0.46,0.34,0.26,0.2,0.15,0.11,0.08,0.06,0.05,0.04,0.03,0.02,0.02,0.01, 0.01,0.01,0,0,0,0],
  [0,0.1,0.4,0.9,1.4,1.8,2.1,2.3,2.4,2.4,2.35,2.25,2.15, 2.05,1.9,1.75,1.6,1.5,1.42,1.35,1.28,1.15,0.95,0.75,0.6,0.5,0.38,0.25,0.15, 0.08,0.04,0.02,0.01,0.01,0],
  [0,0.9,3.6,7.0,8.6,8.1,6.2,4.3,2.9,2.0,1.4,1.05,0.8, 0.63,0.47,0.36,0.26,0.2,0.15,0.11,0.08,0.06,0.05,0.04,0.03,0.02,0.02,0.01,0.01, 0.01,0.01,0,0,0,0],
  [0,0.6,2.8,6.0,7.9,7.8,6.4,4.7,3.3,2.3,1.65,1.2,0.9, 0.7,0.52,0.4,0.3,0.23,0.18,0.14,0.1,0.08,0.06,0.05,0.04,0.03,0.02,0.02,0.01, 0.01,0.01,0,0,0,0],
  [0,0.3,1.5,3.8,6.0,7.2,7.1,6.0,4.6,3.4,2.5,1.85,1.4, 1.1,0.82,0.62,0.45,0.34,0.26,0.2,0.15,0.11,0.08,0.06,0.05,0.04,0.03,0.02,0.02, 0.01,0.01,0.01,0,0,0],
  [0,0.2,1.0,2.6,4.2,5.3,5.6,5.2,4.5,3.7,3.0,2.45,2.0, 1.7,1.35,1.08,0.8,0.6,0.45,0.34,0.26,0.2,0.15,0.11,0.08,0.06,0.04,0.03,0.02, 0.02,0.01,0.01,0,0,0],
  [0,0.4,1.7,3.8,5.5,6.2,5.9,5.0,4.0,3.1,2.4,1.9,1.5, 1.25,0.98,0.78,0.6,0.47,0.37,0.29,0.22,0.16,0.12,0.09,0.07,0.05,0.04,0.03,0.02, 0.01,0.01,0.01,0,0,0],
  [0,0.15,0.7,1.7,2.7,3.4,3.7,3.6,3.3,2.95,2.6,2.3,2.05, 1.85,1.6,1.45,1.35,1.3,1.2,1.05,0.88,0.7,0.54,0.4,0.3,0.22,0.16,0.11,0.07, 0.05,0.03,0.02,0.01,0.01,0],
  [0,0.25,1.1,2.6,3.9,4.7,4.9,4.5,3.8,3.1,2.5,2.05,1.7, 1.45,1.2,1.0,0.8,0.65,0.52,0.42,0.34,0.27,0.21,0.16,0.12,0.09,0.07,0.05,0.03, 0.02,0.01,0.01,0,0,0],
  [0,0.7,3.0,6.3,8.3,8.2,6.7,4.9,3.4,2.35,1.65,1.2,0.9, 0.7,0.52,0.4,0.29,0.22,0.17,0.13,0.1,0.07,0.05,0.04,0.03,0.02,0.02,0.01,0.01, 0.01,0,0,0,0,0]
];

const panels = [
  {row: 0, col: 0, curves: flBlackCurves, mean: flBlackMean},
  {row: 0, col: 1, curves: flLatinoCurves, mean: flLatinoMean},
  {row: 0, col: 2, curves: flWhiteCurves, mean: flWhiteMean},
  {row: 1, col: 0, curves: caBlackCurves, mean: caBlackMean},
  {row: 1, col: 1, curves: caLatinoCurves, mean: caLatinoMean},
  {row: 1, col: 2, curves: caWhiteCurves, mean: caWhiteMean}
];

// sanity check - every curve has one value per grid point
panels.forEach((p, k) => {
  [p.mean].concat(p.curves).forEach((c, j) => {
    if (c.length !== xGrid.length) throw new Error(`panel ${k} curve ${j}: ${c.length} values`);
  });
});

// layout
const width = 912;
const height = 567;
const plotLeft = [64.1, 363.1, 662.1];   // x of -4 for every column
const plotWidth = 248.4;                  // -4 .. 104
const rowTop = [51.3, 330.3];             // y of 14
const rowBottom = [249.3, 537.3];         // y of 0
const axisGap = 9;                        // x axis sits below the plot
const tickLen = 4.5;
const countyStroke = ['rgba(0,0,0,0.42)', 'rgba(0,0,0,0.46)'];

const svg = d3.select('body')
  .append('svg')
  .attr('width', width)
  .attr('height', height);

svg.append('rect').attr('width', width).attr('height', height).attr('fill', '#fff');

const defs = svg.append('defs');

panels.forEach((p, k) => {
  const x = d3.scaleLinear().domain([-4, 104]).range([plotLeft[p.col], plotLeft[p.col] + plotWidth]);
  const y = d3.scaleLinear().domain([0, 14]).range([rowBottom[p.row], rowTop[p.row]]);

  const g = svg.append('g').classed('panel', true);

  // clip lines to plot region
  defs.append('clipPath').attr('id', 'clip' + k)
    .append('rect')
    .attr('x', x(-4)).attr('y', y(14.56))
    .attr('width', plotWidth).attr('height', y(-0.56) - y(14.56));

  const line = d3.line()
    .x((d, i) => x(xGrid[i]))
    .y(d => y(d))
    .curve(d3.curveMonotoneX);

  const lines = g.append('g').attr('clip-path', `url(#clip${k})`);

  lines.selectAll('.county')
    .data(p.curves)
    .enter()
    .append('path')
    .classed('county', true)
    .attr('d', line)
    .attr('fill', 'none')
    .attr('stroke', countyStroke[p.row])
    .attr('stroke-width', 0.9);

  lines.append('path')
    .datum(p.mean)
    .attr('d', line)
    .attr('fill', 'none')
    .attr('stroke', '#000')
    .attr('stroke-width', 3.6)
    .attr('stroke-linejoin', 'round');

  // x axis (R style: line only from first to last tick)
  const axisYpos = rowBottom[p.row] + axisGap;
  const xAxisG = g.append('g')
    .attr('transform', `translate(0,${axisYpos})`)
    .call(d3.axisBottom(x).tickValues(xTicks).tickSize(tickLen).tickSizeOuter(0));
  xAxisG.select('.domain').remove();
  xAxisG.append('line')
    .attr('x1', x(xTicks[0])).attr('x2', x(xTicks[xTicks.length - 1]))
    .attr('stroke', '#000');
  xAxisG.selectAll('text')
    .attr('y', 16.3)
    .attr('dy', null)
    .attr('fill', '#000')
    .style('font-size', '11px')
    .style('font-family', '"Liberation Sans", Arial, sans-serif');
  xAxisG.selectAll('.tick line').attr('stroke', '#000');

  // y axis, labels turned like R's las = 0
  const yAxisG = g.append('g')
    .attr('transform', `translate(${x(-4)},0)`)
    .call(d3.axisLeft(y).tickValues(yTicks).tickSize(tickLen).tickSizeOuter(0));
  yAxisG.select('.domain').remove();
  yAxisG.append('line')
    .attr('y1', y(0)).attr('y2', y(14))
    .attr('stroke', '#000');
  yAxisG.selectAll('.tick line').attr('stroke', '#000');
  yAxisG.selectAll('text')
    .attr('x', null)
    .attr('dy', null)
    .attr('text-anchor', 'middle')
    .attr('transform', 'translate(-10.8,0) rotate(-90)')
    .attr('fill', '#000')
    .style('font-size', '11px')
    .style('font-family', '"Liberation Sans", Arial, sans-serif');
});

// column titles
colTitles.forEach((t, c) => {
  const cx = plotLeft[c] + plotWidth / 2;
  svg.append('text')
    .attr('x', cx).attr('y', 19.5)
    .attr('text-anchor', 'middle')
    .style('font-weight', 'bold')
    .style('font-size', '15px')
    .text(t[0]);
  svg.append('text')
    .attr('x', cx).attr('y', 38)
    .attr('text-anchor', 'middle')
    .style('font-weight', 'bold')
    .style('font-size', '15px')
    .text(t[1]);
});

// row labels with the small "Density" under them
const densityShift = [-8, -1];
rowLabels.forEach((lab, r) => {
  const cy = (rowTop[r] + rowBottom[r]) / 2;
  svg.append('text')
    .attr('transform', `translate(25,${cy}) rotate(-90)`)
    .attr('text-anchor', 'middle')
    .style('font-size', '18px')
    .text(lab);
  svg.append('text')
    .attr('transform', `translate(33,${cy + densityShift[r]}) rotate(-90)`)
    .attr('text-anchor', 'middle')
    .style('font-size', '7px')
    .text('Density');
});
</script>
</body>
</html>
